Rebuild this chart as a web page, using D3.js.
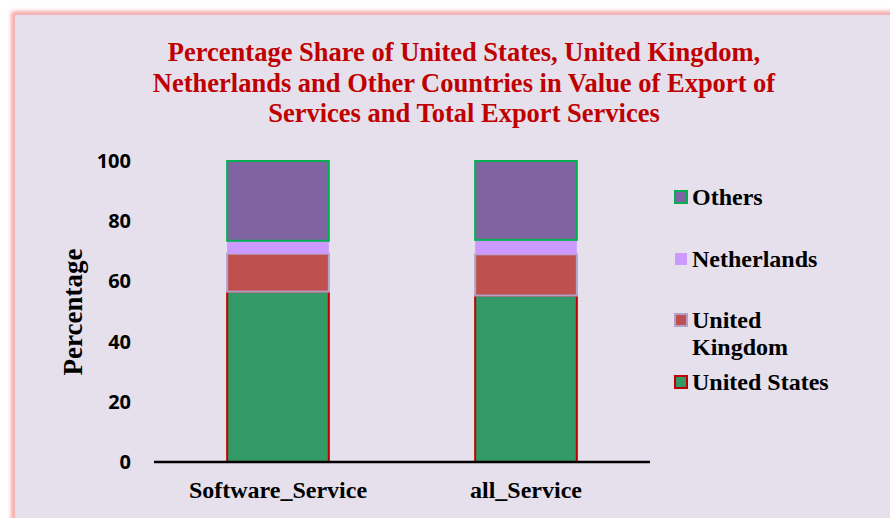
<!DOCTYPE html>
<meta charset="utf-8">
<head>
  <title>Export share</title>
</head>

<style>
body {
  margin: 0;
  background: #fff;
}
svg text { font-weight: bold; }
</style>

<body>
  <div id="content">
    <svg width="890" height="518"></svg>
  </div>

  <script src="https://cdn.jsdelivr.net/npm/d3@7"></script>

  <script>
var categories = ['Software_Service', 'all_Service'];
var series = ['United States', 'United Kingdom', 'Netherlands', 'Others'];
var unitedStates = [56.6, 55.3];
var unitedKingdom = [12.6, 13.7];
var netherlands = [4.3, 4.8];
var others = [26.5, 26.2];
var yTicks = [0, 20, 40, 60, 80, 100];

var fills = {'United States': '#339966', 'United Kingdom': '#c0504d', 'Netherlands': '#cc99ff', 'Others': '#8064a2'};
var strokes = {'United States': '#c00000', 'United Kingdom': '#b3a2c7', 'Netherlands': 'none', 'Others': '#00b050'};

var rows = categories.map(function(c, i) {
  return {cat: c, 'United States': unitedStates[i], 'United Kingdom': unitedKingdom[i],
          'Netherlands': netherlands[i], 'Others': others[i]};
});

var svg = d3.select('svg');

// frame with pink glow
var defs = svg.append('defs');
var f = defs.append('filter').attr('id', 'glow').attr('x', '-5%').attr('y', '-5%').attr('width', '110%').attr('height', '110%');
f.append('feGaussianBlur').attr('stdDeviation', 2);
svg.append('rect').attr('x', 14).attr('y', 14).attr('width', 900).attr('height', 520)
  .attr('fill', 'none').attr('stroke', '#f29a9a').attr('stroke-width', 5).attr('filter', 'url(#glow)');
svg.append('rect').attr('x', 15).attr('y', 15).attr('width', 900).attr('height', 520)
  .attr('fill', '#e5e0ec');

var x = d3.scaleBand().domain(categories).range([154, 650]).paddingInner(0.59).paddingOuter(0.295);
var y = d3.scaleLinear().domain([0, 100]).range([462, 161]);

var stacked = d3.stack().keys(series)(rows);

svg.append('g').selectAll('g')
  .data(stacked)
  .join('g')
  .attr('fill', function(d) { return fills[d.key]; })
  .attr('stroke', function(d) { return strokes[d.key]; })
  .attr('stroke-width', 2)
  .selectAll('rect')
  .data(function(d) { return d; })
  .join('rect')
  .attr('x', function(d) { return x(d.data.cat); })
  .attr('width', x.bandwidth())
  .attr('y', function(d) { return y(d[1]); })
  .attr('height', function(d) { return y(d[0]) - y(d[1]); });

// y axis labels (no line)
var yAxis = svg.append('g')
  .attr('transform', 'translate(141,0)')
  .call(d3.axisLeft(y).tickValues(yTicks).tickSize(0).tickPadding(10));
yAxis.select('.domain').remove();
yAxis.selectAll('text')
  .attr('font-family', '"Open Sans", sans-serif')
  .attr('font-size', 20)
  .attr('fill', '#000');

// x axis
var xAxis = svg.append('g')
  .attr('transform', 'translate(0,462)')
  .call(d3.axisBottom(x).tickSize(0).tickPadding(19));
xAxis.select('.domain').attr('stroke', '#000').attr('stroke-width', 2.5)
  .attr('d', 'M154,0H650');
xAxis.selectAll('text')
  .attr('font-family', '"Liberation Serif", serif')
  .attr('font-size', 24)
  .attr('fill', '#000');

// y title
svg.append('text')
  .attr('transform', 'translate(82,312) rotate(-90)')
  .attr('text-anchor', 'middle')
  .attr('font-family', '"Liberation Serif", serif')
  .attr('font-size', 27)
  .text('Percentage');

// title
var titleLines = ['Percentage Share of United States, United Kingdom,',
  'Netherlands and Other Countries in Value of Export of',
  'Services and Total Export Services'];
svg.append('g').selectAll('text')
  .data(titleLines)
  .join('text')
  .attr('x', 464)
  .attr('y', function(d, i) { return 61 + i * 30.5; })
  .attr('text-anchor', 'middle')
  .attr('font-family', '"Liberation Serif", serif')
  .attr('font-size', 26.5)
  .attr('fill', '#c00000')
  .text(function(d) { return d; });

// legend
var legendItems = [
  {key: 'Others', lines: ['Others'], y: 197},
  {key: 'Netherlands', lines: ['Netherlands'], y: 259},
  {key: 'United Kingdom', lines: ['United', 'Kingdom'], y: 320},
  {key: 'United States', lines: ['United States'], y: 382}
];
var lg = svg.append('g').selectAll('g')
  .data(legendItems)
  .join('g')
  .attr('transform', function(d) { return 'translate(675,' + d.y + ')'; });
lg.append('rect')
  .attr('x', 0).attr('y', -6).attr('width', 12).attr('height', 12)
  .attr('fill', function(d) { return fills[d.key]; })
  .attr('stroke', function(d) { return strokes[d.key]; })
  .attr('stroke-width', 2);
lg.selectAll('text')
  .data(function(d) { return d.lines; })
  .join('text')
  .attr('x', 17)
  .attr('y', function(d, i) { return 8 + i * 27; })
  .attr('font-family', '"Liberation Serif", serif')
  .attr('font-size', 24)
  .text(function(d) { return d; });
  </script>
</body>
</html>
